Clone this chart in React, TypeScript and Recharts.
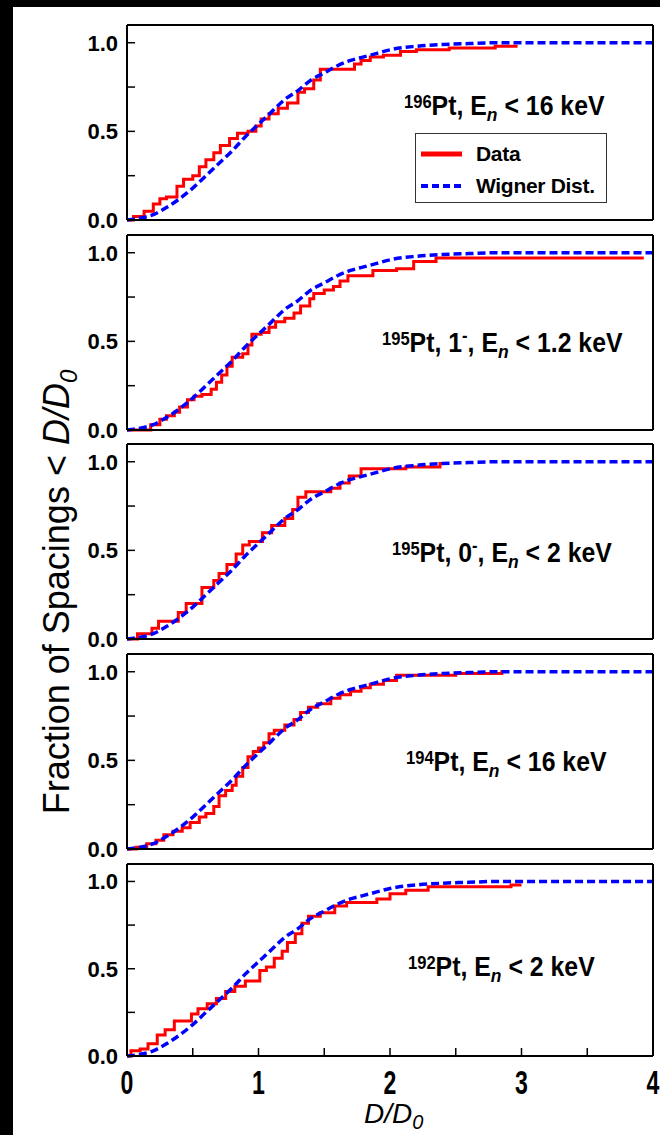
import React from "react";
import { LineChart, Line, XAxis, YAxis, Legend } from "recharts";

// axis ticks
const xTicks = [0, 0.5, 1, 1.5, 2, 2.5, 3, 3.5, 4];
const yTicks = [0, 0.25, 0.5, 0.75, 1];

// Wigner curve
const wignerX = [0, 0.1, 0.2, 0.3, 0.4, 0.5, 0.6, 0.7, 0.8, 0.9, 1.0, 1.1, 1.2, 1.3, 1.4, 1.5, 1.6, 1.7, 1.8, 1.9, 2.0, 2.2, 2.4, 2.6, 2.8, 3.0, 3.5, 4.0];
const wignerY = [0, 0.01, 0.03, 0.07, 0.12, 0.18, 0.25, 0.32, 0.39, 0.47, 0.54, 0.61, 0.68, 0.73, 0.79, 0.83, 0.87, 0.9, 0.92, 0.94, 0.96, 0.98, 0.99, 0.995, 1.0, 1.0, 1.0, 1.0];

// cumulative spacing data, [D/D0, fraction] at each step
const pt196: [number, number][] = [
  [0, 0], [0.05, 0.02], [0.13, 0.05], [0.2, 0.09], [0.25, 0.12], [0.3, 0.13], [0.38, 0.19], [0.43, 0.23],
  [0.5, 0.25], [0.55, 0.3], [0.6, 0.34], [0.66, 0.38], [0.71, 0.42], [0.78, 0.46], [0.84, 0.49], [0.92, 0.5],
  [0.98, 0.53], [1.02, 0.57], [1.08, 0.6], [1.15, 0.63], [1.22, 0.66], [1.3, 0.72], [1.35, 0.74], [1.42, 0.79],
  [1.47, 0.85], [1.73, 0.88], [1.78, 0.9], [1.85, 0.92], [1.95, 0.93], [2.08, 0.95], [2.2, 0.96], [2.45, 0.97],
  [2.8, 0.98], [2.97, 0.98],
];
const pt195a: [number, number][] = [
  [0, 0], [0.18, 0.03], [0.25, 0.06], [0.3, 0.08], [0.36, 0.1], [0.4, 0.13], [0.46, 0.17], [0.51, 0.19],
  [0.57, 0.2], [0.64, 0.23], [0.68, 0.27], [0.72, 0.31], [0.76, 0.36], [0.8, 0.41], [0.88, 0.43], [0.92, 0.48],
  [0.95, 0.54], [1.02, 0.55], [1.08, 0.58], [1.13, 0.61], [1.2, 0.63], [1.27, 0.66], [1.32, 0.7], [1.39, 0.74],
  [1.42, 0.77], [1.5, 0.79], [1.57, 0.81], [1.62, 0.84], [1.68, 0.87], [1.87, 0.9], [2.05, 0.91], [2.18, 0.95],
  [2.35, 0.97], [3.93, 0.97],
];
const pt195b: [number, number][] = [
  [0, 0], [0.08, 0.03], [0.19, 0.06], [0.24, 0.1], [0.39, 0.15], [0.45, 0.2], [0.57, 0.29], [0.66, 0.33],
  [0.7, 0.37], [0.76, 0.42], [0.83, 0.48], [0.88, 0.53], [0.93, 0.55], [1.03, 0.6], [1.1, 0.64], [1.2, 0.68],
  [1.26, 0.73], [1.3, 0.8], [1.36, 0.83], [1.55, 0.85], [1.62, 0.88], [1.69, 0.92], [1.78, 0.96], [2.12, 0.97],
  [2.38, 0.99], [2.42, 0.99],
];
const pt194: [number, number][] = [
  [0, 0], [0.07, 0.01], [0.15, 0.03], [0.22, 0.05], [0.28, 0.08], [0.35, 0.1], [0.42, 0.12], [0.48, 0.15],
  [0.55, 0.18], [0.6, 0.2], [0.66, 0.24], [0.7, 0.3], [0.75, 0.33], [0.8, 0.36], [0.83, 0.41], [0.88, 0.46],
  [0.92, 0.52], [0.96, 0.55], [1.0, 0.57], [1.04, 0.6], [1.08, 0.65], [1.12, 0.67], [1.2, 0.7], [1.27, 0.73],
  [1.32, 0.77], [1.38, 0.8], [1.45, 0.82], [1.55, 0.85], [1.62, 0.87], [1.7, 0.89], [1.78, 0.91], [1.85, 0.93],
  [1.95, 0.95], [2.05, 0.98], [2.5, 0.99], [2.85, 1.0], [2.87, 1.0],
];
const pt192: [number, number][] = [
  [0, 0], [0.03, 0.03], [0.1, 0.04], [0.16, 0.07], [0.23, 0.12], [0.29, 0.15], [0.36, 0.2], [0.49, 0.24],
  [0.54, 0.27], [0.61, 0.3], [0.68, 0.33], [0.75, 0.37], [0.82, 0.4], [0.9, 0.43], [1.01, 0.49], [1.06, 0.51],
  [1.12, 0.56], [1.18, 0.6], [1.22, 0.65], [1.28, 0.7], [1.33, 0.76], [1.38, 0.8], [1.47, 0.82], [1.58, 0.86],
  [1.67, 0.88], [1.9, 0.9], [2.0, 0.93], [2.12, 0.95], [2.29, 0.97], [2.92, 0.98], [3.0, 0.98],
];

const wigner = wignerX.map((x, i) => ({ x, y: wignerY[i] }));
const toRows = (s: [number, number][]) => s.map(([x, y]) => ({ x, y }));

const panels = [
  { id: "196", steps: pt196, top: 25, h: 195, legend: true,
    label: { mass: "196", spin: "", energy: "16", x: 404, y: 115 } },
  { id: "195a", steps: pt195a, top: 235, h: 195,
    label: { mass: "195", spin: "1", energy: "1.2", x: 382, y: 352 } },
  { id: "195b", steps: pt195b, top: 444, h: 195,
    label: { mass: "195", spin: "0", energy: "2", x: 392, y: 562 } },
  { id: "194", steps: pt194, top: 654, h: 195,
    label: { mass: "194", spin: "", energy: "16", x: 406, y: 771 } },
  { id: "192", steps: pt192, top: 864, h: 192, bottom: true,
    label: { mass: "192", spin: "", energy: "2", x: 408, y: 976 } },
];

const FONT = "'Liberation Sans', Arial, Helvetica, sans-serif";
const frame = { stroke: "#000", strokeWidth: 2 };
const tickLn = { stroke: "#000", strokeWidth: 1.5 };
const blank = () => "";

const XTick = (props: any) => {
  const { x, y, payload } = props;
  if (!Number.isInteger(payload.value)) return <g />;
  return (
    <text transform={`translate(${x},${y}) scale(0.7,1)`} textAnchor="middle" dy="0.71em"
      fontSize={33} fontWeight="bold" fill="#000" fontFamily={FONT}>
      {payload.value}
    </text>
  );
};

const LegendBox = (props: any) => {
  const items = props.payload || [];
  return (
    <div style={{ border: "1.5px solid #333", background: "#fff", width: 192, height: 70, paddingTop: 4, boxSizing: "border-box" }}>
      {items.map((it: any) => {
        const dashed = it.value !== "Data";
        return (
          <div key={it.value} style={{ height: 32, display: "flex", alignItems: "center" }}>
            <svg width={60} height={10} style={{ flex: "none" }}>
              <line x1={5} y1={5} x2={46} y2={5} stroke={it.color} strokeWidth={dashed ? 4 : 5}
                strokeDasharray={dashed ? "7 4" : undefined} />
            </svg>
            <span style={{ fontFamily: FONT, fontWeight: "bold", fontSize: 21, color: "#000", letterSpacing: -0.3 }}>
              {it.value}
            </span>
          </div>
        );
      })}
    </div>
  );
};

function Panel({ p }: { p: any }) {
  const chartTop = p.top - 10;
  const bottomH = p.bottom ? 45 : 1;
  const height = 10 + p.h + bottomH + 14;
  return (
    <div style={{ position: "absolute", left: 0, top: chartTop }}>
      <LineChart width={660} height={height} margin={{ top: 9, right: 6, bottom: 14, left: 67 }}>
        <XAxis xAxisId={0} dataKey="x" type="number" domain={[0, 4]} ticks={xTicks} interval={0}
          height={bottomH} axisLine={frame} tickLine={tickLn} tickSize={-8} tickMargin={23}
          tick={p.bottom ? <XTick /> : false} />
        <XAxis xAxisId="top" orientation="top" dataKey="x" type="number" domain={[0, 4]} ticks={xTicks}
          interval={0} height={1} axisLine={frame} tickLine={tickLn} tickSize={-8} tickFormatter={blank} />
        <YAxis yAxisId={0} type="number" domain={[0, 1.1]} ticks={yTicks} interval={0} width={60}
          axisLine={frame} tickLine={tickLn} tickSize={-8} tickMargin={17}
          tick={{ fill: "#000", fontSize: 22, fontWeight: "bold", fontFamily: FONT }}
          tickFormatter={(v: number) => (v === 0.25 || v === 0.75 ? "" : v.toFixed(1))} />
        <YAxis yAxisId="right" orientation="right" type="number" domain={[0, 1.1]} ticks={yTicks}
          interval={0} width={1} axisLine={frame} tickLine={tickLn} tickSize={-8} tickFormatter={blank} />
        <Line data={toRows(p.steps)} dataKey="y" name="Data" type="stepAfter" stroke="#ff0000"
          strokeWidth={3} dot={false} isAnimationActive={false} />
        <Line data={wigner} dataKey="y" name="Wigner Dist." type="monotone" stroke="#0000ff"
          strokeWidth={3.5} strokeDasharray="8 4" dot={false} isAnimationActive={false} />
        {p.legend && (
          <Legend layout="horizontal" verticalAlign="middle" align="center" content={<LegendBox />}
            wrapperStyle={{ left: 415, top: 133 - chartTop, width: 194, height: 72 }} />
        )}
      </LineChart>
    </div>
  );
}

function Annotation({ a }: { a: any }) {
  return (
    <text transform={`translate(${a.x},${a.y}) scale(0.92,1)`} fontSize={27} fontWeight="bold" fill="#000" fontFamily={FONT}>
      <tspan fontSize={18} dy={-7}>{a.mass}</tspan>
      <tspan fontSize={27} dy={7}>{"Pt, " + a.spin}</tspan>
      {a.spin ? <tspan fontSize={18} dy={-10}>-</tspan> : null}
      <tspan fontSize={27} dy={a.spin ? 10 : 0}>{(a.spin ? ", " : "") + "E"}</tspan>
      <tspan fontSize={19} fontStyle="italic" dy={6}>n</tspan>
      <tspan fontSize={27} dy={-6}>{" < " + a.energy + " keV"}</tspan>
    </text>
  );
}

export default function App() {
  return (
    <div style={{ position: "absolute", left: 0, top: 0, width: 660, height: 1135, background: "#fff", overflow: "hidden", fontFamily: FONT }}>
      <div style={{ position: "absolute", left: 0, top: 0, width: 660, height: 7, background: "#000" }} />
      <div style={{ position: "absolute", left: 0, top: 0, width: 13, height: 1135, background: "#000" }} />
      {panels.map((p) => (
        <Panel key={p.id} p={p} />
      ))}
      <svg width={660} height={1135} style={{ position: "absolute", left: 0, top: 0, pointerEvents: "none" }}>
        {panels.map((p) => (
          <Annotation key={p.id} a={p.label} />
        ))}
        <text transform="translate(69,592) rotate(-90)" textAnchor="middle" fontSize={36} fill="#000" fontFamily={FONT}>
          {"Fraction of Spacings < "}
          <tspan fontStyle="italic">D/D</tspan>
          <tspan fontStyle="italic" fontSize={24} dy={8}>0</tspan>
        </text>
        <text x={364} y={1123} fontSize={28} fontStyle="italic" fill="#000" fontFamily={FONT}>
          D/D<tspan fontSize={20} dy={6}>0</tspan>
        </text>
      </svg>
    </div>
  );
}
